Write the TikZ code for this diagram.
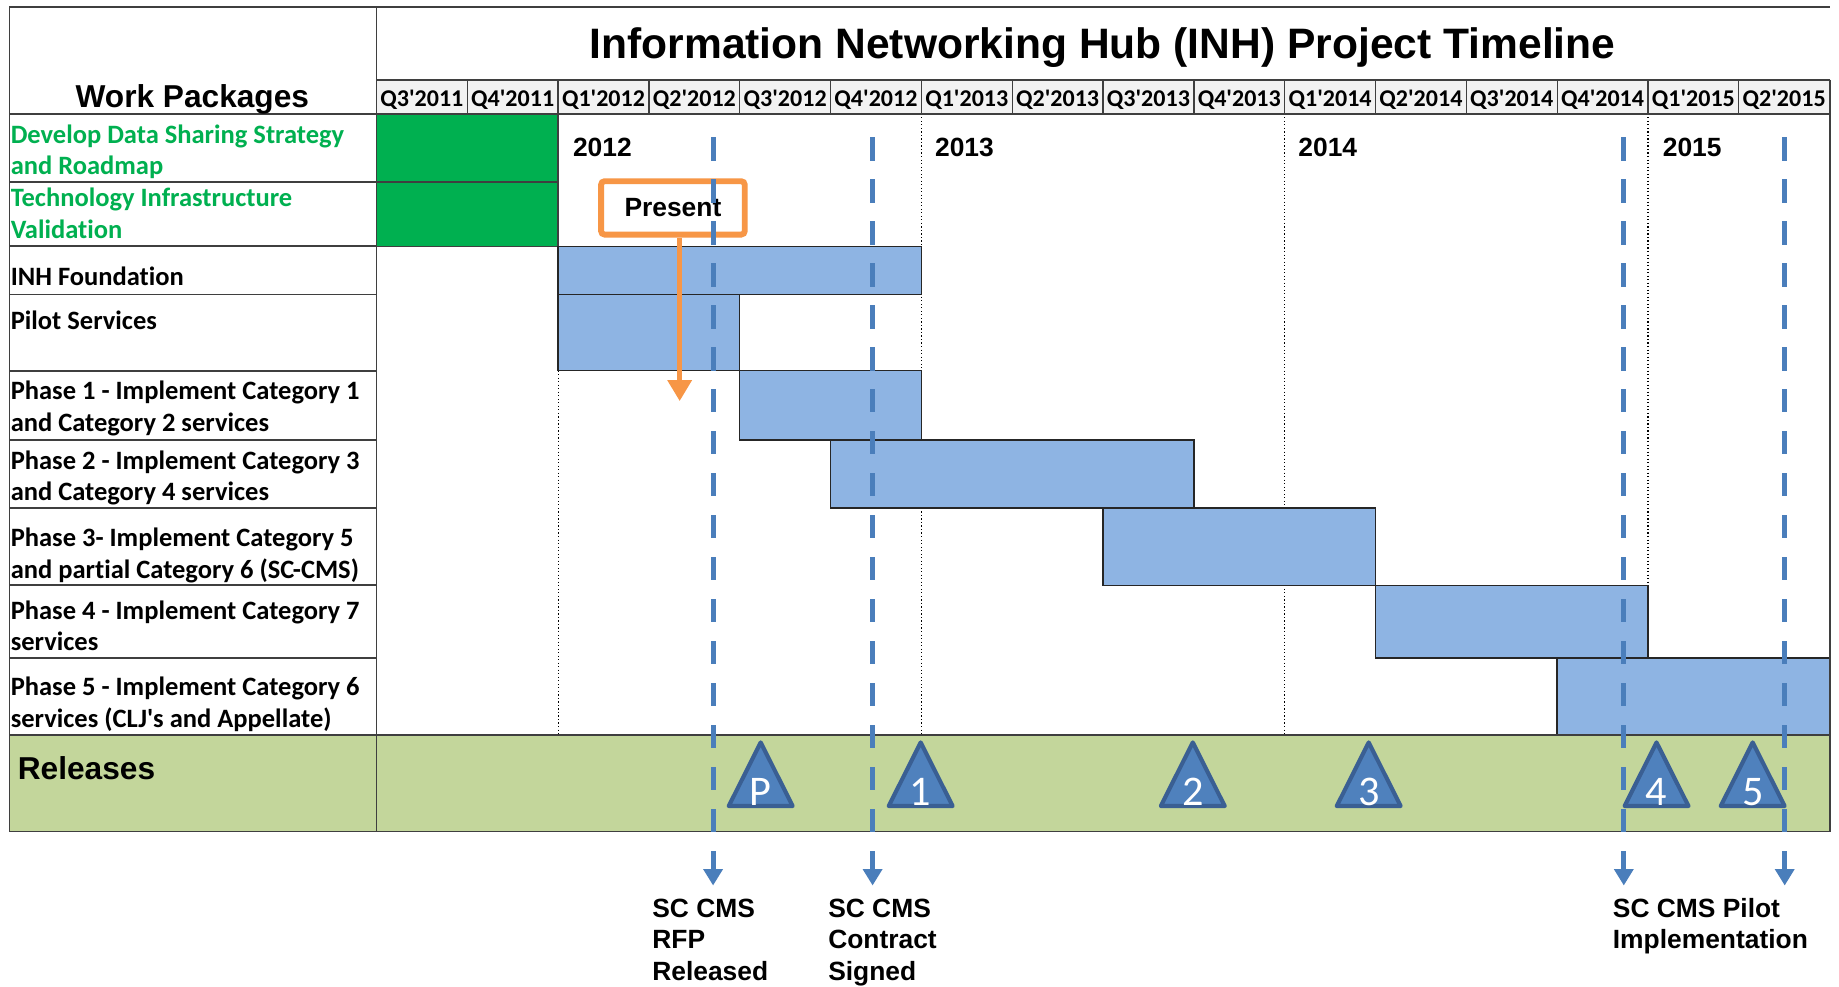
\documentclass[tikz,border=0pt]{standalone}
\usepackage{fontspec}
\setmainfont{Liberation Sans}[Ligatures=TeXOff]
\newfontfamily\calfont{Carlito}[Ligatures={TeXOff,CommonOff}]
\usetikzlibrary{arrows.meta}

\definecolor{gridgray}{HTML}{3F3F3F}
\definecolor{hdrfill}{HTML}{F2F2F2}
\definecolor{donegreen}{HTML}{00B050}
\definecolor{barblue}{HTML}{8EB4E3}
\definecolor{relgreen}{HTML}{C3D69B}
\definecolor{msblue}{HTML}{4A7EBB}
\definecolor{trifill}{HTML}{4F81BD}
\definecolor{triborder}{HTML}{3A5F93}
\definecolor{presorange}{HTML}{F79646}

% x position of the left edge of quarter #1 (0 = Q3'2011)
\newcommand\qx[1]{(321+(#1)*77.4375)}
% left-aligned stack of lines whose baseline is the first line's baseline
\newcommand\stack[1]{\vtop{\halign{##\hfil\cr#1\crcr}}}

\tikzset{
  frame/.style={draw=gridgray, line width=1.5pt},
  qdiv/.style={draw=gridgray, line width=1.1pt},
  yearline/.style={draw=black, line width=0.9pt, dash pattern=on 1pt off 2pt},
  donecell/.style={fill=donegreen, draw=gridgray, line width=1.3pt},
  taskbar/.style={fill=barblue, draw=black!85, line width=1.2pt},
  titletext/.style={font=\fontsize{36.3}{40}\selectfont\bfseries, anchor=base, inner sep=0pt},
  headtext/.style={font=\fontsize{27}{30}\selectfont\bfseries, anchor=base, inner sep=0pt},
  qlabel/.style={font=\calfont\bfseries\fontsize{20.5}{24}\selectfont, anchor=base, inner sep=0pt},
  yearlabel/.style={font=\fontsize{22.5}{27}\selectfont\bfseries, anchor=base west, inner sep=0pt},
  wp/.style={font=\calfont\bfseries\fontsize{22.6}{27}\selectfont, anchor=base west, inner sep=0pt},
  relmark/.style={fill=trifill, draw=triborder, line width=3.5pt, line join=round},
  relnum/.style={font=\calfont\fontsize{36}{40}\selectfont, text=white, anchor=base, inner sep=0pt},
  presbox/.style={draw=presorange, line width=5pt, fill=white, rounded corners=3pt,
    minimum width=122.5pt, minimum height=45.5pt, inner sep=0pt,
    font=\fontsize{22.5}{27}\selectfont\bfseries},
  presarrow/.style={draw=presorange, line width=4.5pt, -{Triangle[width=20pt,length=18pt]}},
  msline/.style={draw=msblue, line width=4.2pt, dash pattern=on 19.9pt off 15.9pt,
    -{Triangle[width=16pt,length=14pt]}},
  mslabel/.style={font=\fontsize{22.5}{27}\selectfont\bfseries, anchor=base west, inner sep=0pt},
}

\begin{document}
\begin{tikzpicture}[x=1pt,y=-1pt]
\useasboundingbox (0,0) rectangle (1568,841);
\fill[white] (0,0) rectangle (1568,841);

% ---- background fills ----
\fill[hdrfill] (321,68) rectangle (1560,97);
\fill[relgreen] (8,627) rectangle (1560,709);

% ---- year boundaries ----
\foreach \q in {2,6,10,14}
  \draw[yearline] ({\qx{\q}},97) -- ({\qx{\q}},627);

% ---- completed work (green) ----
\draw[donecell] (321,97) rectangle ({\qx{2}},155);
\draw[donecell] (321,155) rectangle ({\qx{2}},210);

% ---- task bars ----
\draw[taskbar] ({\qx{2}},210) rectangle ({\qx{6}},251);   % INH Foundation
\draw[taskbar] ({\qx{2}},251) rectangle ({\qx{4}},316);   % Pilot Services
\draw[taskbar] ({\qx{4}},316) rectangle ({\qx{6}},375);   % Phase 1
\draw[taskbar] ({\qx{5}},375) rectangle ({\qx{9}},433);   % Phase 2
\draw[taskbar] ({\qx{8}},433) rectangle ({\qx{11}},499);  % Phase 3
\draw[taskbar] ({\qx{11}},499) rectangle ({\qx{14}},561); % Phase 4
\draw[taskbar] ({\qx{13}},561) rectangle ({\qx{16}},627); % Phase 5

% ---- table grid ----
\draw[frame] (8,6) -- (1560,6);
\draw[frame] (1560,68) -- (1560,709) -- (8,709) -- (8,6);
\draw[frame] (321,6) -- (321,709);
\draw[frame] (321,68) -- (1560,68);
\draw[frame] (8,97) -- (1560,97);
\draw[frame] (8,627) -- (1560,627);
\foreach \y in {155,210,251,316,375,433,499,561}
  \draw[frame] (8,\y) -- (321,\y);
\foreach \q in {1,...,15}
  \draw[qdiv] ({\qx{\q}},68) -- ({\qx{\q}},97);

% ---- headings ----
\node[titletext] (title) at (940,49.5) {Information Networking Hub (INH) Project Timeline};
\node[headtext] (wphead) at (164,91.5) {Work Packages};
\foreach \lbl [count=\i from 0] in {Q3'2011,Q4'2011,Q1'2012,Q2'2012,Q3'2012,Q4'2012,
    Q1'2013,Q2'2013,Q3'2013,Q4'2013,Q1'2014,Q2'2014,Q3'2014,Q4'2014,Q1'2015,Q2'2015}
  \node[qlabel] (q\i) at ({\qx{\i+0.5}},91) {\lbl};

% ---- year labels ----
\node[yearlabel] (y2012) at ({\qx{2}+12.5},133.6) {2012};
\node[yearlabel] (y2013) at ({\qx{6}+11.5},133.6) {2013};
\node[yearlabel] (y2014) at ({\qx{10}+11.5},133.6) {2014};
\node[yearlabel] (y2015) at ({\qx{14}+12.5},133.6) {2015};

% ---- work package labels ----
\node[wp, text=donegreen] (wp1) at (9,122) {\stack{Develop Data Sharing Strategy\cr and Roadmap}};
\node[wp, text=donegreen] (wp2) at (9,176) {\stack{Technology Infrastructure\cr Validation}};
\node[wp] (wp3) at (9,243) {INH Foundation};
\node[wp] (wp4) at (9,281) {Pilot Services};
\node[wp] (wp5) at (9,341) {\stack{Phase 1 - Implement Category 1\cr and Category 2 services}};
\node[wp] (wp6) at (9,400) {\stack{Phase 2 - Implement Category 3\cr and Category 4 services}};
\node[wp] (wp7) at (9,466) {\stack{Phase 3- Implement Category 5\cr and partial Category 6 (SC-CMS)}};
\node[wp] (wp8) at (9,528) {\stack{Phase 4 - Implement Category 7\cr services}};
\node[wp] (wp9) at (9,593) {\stack{Phase 5 - Implement Category 6\cr services (CLJ's and Appellate)}};
\node[headtext, anchor=base west] (relhead) at (15,664.5) {Releases};

% ---- release markers ----
\foreach \name/\x/\t in {relP/648.6/P, rel1/785/1, rel2/1017/2, rel3/1167/3, rel4/1412.4/4, rel5/1494.4/5} {
  \path[relmark] (\x-27.25,687.25) -- (\x,633) -- (\x+27.25,687.25) -- cycle;
  \node[relnum] (\name) at (\x,687) {\t};
}

% ---- present marker ----
\node[presbox] (present) at (573.75,177.25) {Present};
\coordinate (presTip) at (579.5,342);
\draw[presarrow] (present.south -| presTip) -- (presTip);

% ---- milestones ----
\foreach \m/\x in {ms1/608, ms2/744, ms3/1384.5, ms4/1521.7} {
  \coordinate (\m top) at (\x,117);
  \coordinate (\m end) at (\x,755);
  \draw[msline] (\m top) -- (\m end);
}
\node[mslabel] (ms1lbl) at (556,782) {\stack{SC CMS\cr RFP\cr Released}};
\node[mslabel] (ms2lbl) at (706,782) {\stack{SC CMS\cr Contract\cr Signed}};
\node[mslabel] (ms3lbl) at (1375,782) {\stack{SC CMS Pilot\cr Implementation}};
\end{tikzpicture}
\end{document}
